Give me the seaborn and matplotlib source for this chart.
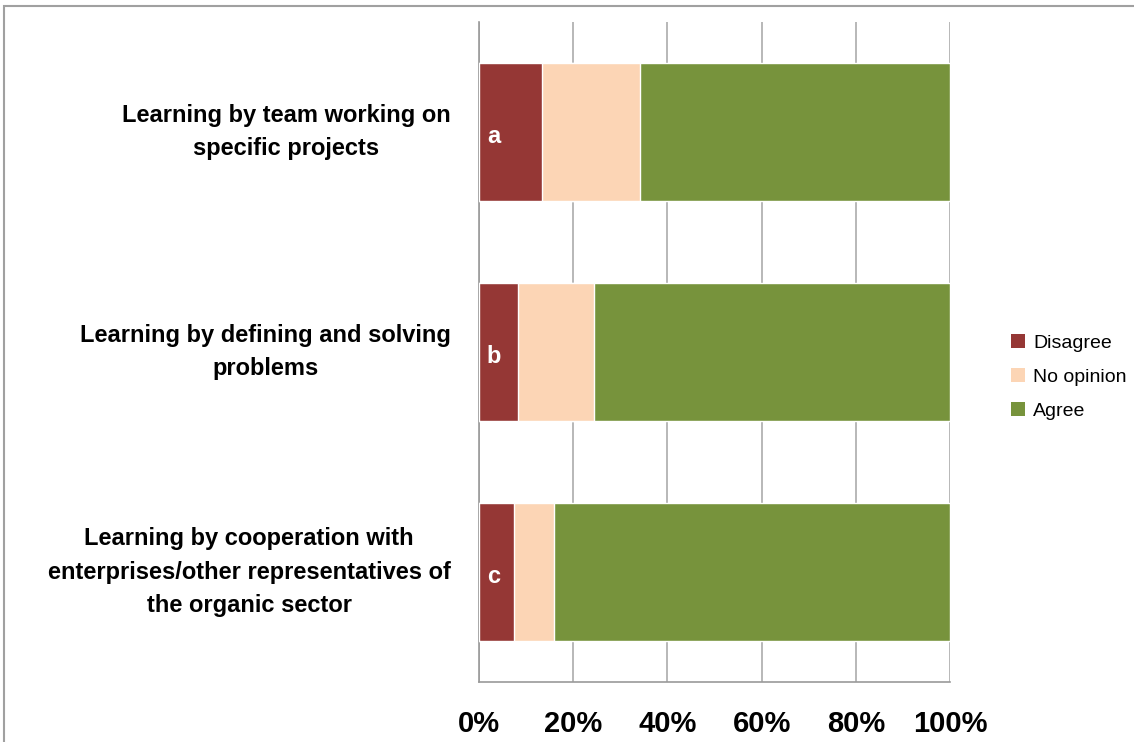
import numpy as np
import pandas as pd
import seaborn as sns
import matplotlib.pyplot as plt
from matplotlib.patches import Patch, Rectangle

# values (percent)
categories = ["Learning by team working on\nspecific projects",
              "Learning by defining and solving\nproblems",
              "Learning by cooperation with\nenterprises/other representatives of\nthe organic sector"]
bar_letters = ["a", "b", "c"]
disagree = [13.4, 8.2, 7.4]
no_opinion = [20.8, 16.3, 8.5]
agree = [65.8, 75.5, 84.1]
series_names = ["Disagree", "No opinion", "Agree"]
colors = ["#953735", "#FCD5B5", "#77933C"]
tick_labels = ["0%", "20%", "40%", "60%", "80%", "100%"]

sns.set_theme(style="white")
plt.rcParams['font.family'] = ['Liberation Sans Narrow', 'Liberation Sans', 'DejaVu Sans']

df = pd.DataFrame({"cat": categories, "Disagree": disagree,
                   "No opinion": no_opinion, "Agree": agree})
df["c1"] = df["Disagree"]
df["c2"] = df["Disagree"] + df["No opinion"]
df["c3"] = df["c2"] + df["Agree"]

fig = plt.figure(figsize=(11.34, 7.42), dpi=100)
ax = fig.add_axes([479 / 1134, 1 - 682 / 742, 471 / 1134, 660 / 742])

# stacked look: draw cumulative totals back to front
for col, c in zip(["c3", "c2", "c1"], colors[::-1]):
    sns.barplot(data=df, y="cat", x=col, color=c, orient="h", width=0.625,
                saturation=1, ax=ax, zorder=3)

ax.set_xlim(0, 100)
ax.set_ylim(2.5, -0.5)
ax.set_xticks(np.arange(0, 101, 20))
ax.set_xticklabels(tick_labels, fontsize=21, fontweight="bold", color="black")
ax.set_yticks([-0.5, 0.5, 1.5, 2.5], minor=False)
ax.set_yticklabels([])
ax.set_xlabel("")
ax.set_ylabel("")
ax.xaxis.grid(True, color="#ABABAB", linewidth=1.2, zorder=0)
ax.set_axisbelow(True)
for s in ["top", "right"]:
    ax.spines[s].set_visible(False)
for s in ["left", "bottom"]:
    ax.spines[s].set_color("#9A9A9A")
    ax.spines[s].set_linewidth(1.2)
ax.tick_params(axis="x", direction="out", length=10, color="#9A9A9A", width=1.2, pad=10)
ax.tick_params(axis="y", direction="out", length=10, color="#9A9A9A", width=1.2)

# category labels, centered multi-line text to the left of the axis
for i, lab in enumerate(categories):
    ax.text(-6, i, lab, ha="right", va="center", multialignment="center",
            fontsize=17, fontweight="bold", color="black", linespacing=1.6,
            transform=ax.transData, clip_on=False)
    ax.text(3.2, i + 0.02, bar_letters[i], ha="center", va="center", fontsize=17,
            fontweight="bold", color="white", zorder=5)

handles = [Patch(facecolor=c, edgecolor="none") for c in colors]
fig.legend(handles, series_names, loc="center left", bbox_to_anchor=(1011 / 1134, 1 - 377 / 742),
           frameon=False, fontsize=14, labelcolor="black", handlelength=0.7, handleheight=0.7,
           handletextpad=0.45, labelspacing=0.85, borderaxespad=0, borderpad=0)

# outer chart border
fig.patches.append(Rectangle((4 / 1134, -0.01), 1.02, 1 - 6 / 742 + 0.01, transform=fig.transFigure,
                             fill=False, edgecolor="#A0A0A0", linewidth=1.5))

fig.savefig("out.png", dpi=100)
